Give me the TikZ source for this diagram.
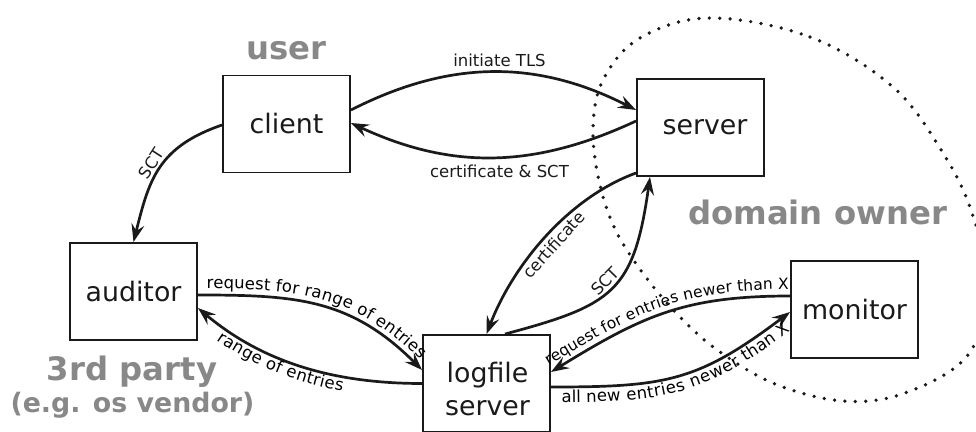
\documentclass[tikz,border=0pt]{standalone}
\usepackage{fontspec}
\setmainfont{DejaVu Sans}
\usetikzlibrary{arrows.meta,decorations.text}
\definecolor{ownergray}{RGB}{136,136,136}
\definecolor{ink}{RGB}{26,26,26}
\newcommand\boxfont{\fontsize{26.8}{33}\selectfont}
\newcommand\edgefont{\fontsize{16.5}{19}\selectfont}
\newcommand\narrowedgefont{\fontsize{15.5}{18}\selectfont}
\newcommand\partyfont{\fontsize{32.3}{36}\selectfont\bfseries}
\newcommand\vendorfont{\fontsize{26.8}{30}\selectfont\bfseries}
\begin{document}
\begin{tikzpicture}[x=1pt,y=1pt,
  entity/.style={draw=ink, line width=1.9pt, minimum width=127pt, minimum height=97pt,
    inner sep=0pt, font=\boxfont, text=ink},
  entitytext/.style={font=\boxfont, text=ink, align=center, inner sep=0pt},
  party/.style={font=\partyfont, text=ownergray, anchor=base, inner sep=0pt},
  flow/.style={draw=ink, line width=2.7pt, -{Stealth[length=18pt,width=13pt,inset=6.5pt]}},
  flowlabel/.style={font=\edgefont, text=ink, inner sep=0pt},
  ownerline/.style={draw=ink, line width=3.7pt, line cap=round, dash pattern=on 0pt off 10.4pt}
]
\useasboundingbox (0,0) rectangle (976,431);

% boundary of the domain owner's realm
\begin{scope}
  \clip (0,0) rectangle (976,431);
  \draw[ownerline] plot[smooth cycle, tension=0.6] coordinates {
    (710,413) (810,394) (893,344) (943,278) (972,218) (987,146) (968,76)
    (905,38) (843,30) (775,47) (720,79) (683,111) (648,151) (617,198)
    (600,246) (593,301) (603,351) (640,393)};
\end{scope}

% parties
\node[party] (userlabel) at (286.5,371.7) {user};
\node[party] (ownerlabel) at (817.5,206) {domain owner};
\node[party] (thirdlabel) at (132,51) {3rd party};
\node[party, font=\vendorfont] (vendorlabel) at (132.5,19) {(e.g. os vendor)};

% actors
\node[entity] (client) at (286.5,307) {client};
\node[entity] (server) at (700.5,303.5) {\hspace*{9pt}server};
\node[entity] (auditor) at (133.5,139.5) {auditor};
\node[entity] (logfile) at (486.5,47.5) {};
\node[entitytext] (logfiletext) at ([xshift=1pt,yshift=-5.5pt]logfile.center) {logfile\\server};
\node[entity] (monitor) at (854.5,121.5) {monitor};

% TLS handshake
\draw[flow] ([yshift=14pt]client.east) to[out=27,in=153]
  node[flowlabel, above=4pt, xshift=6pt] (tlslabel) {initiate TLS} ([yshift=17.5pt]server.west);
\draw[flow] ([yshift=6.5pt]server.west) to[out=205,in=-25]
  node[flowlabel, below=6pt, xshift=6pt] (certsctlabel) {certificate \& SCT} ([yshift=1pt]client.east);

% client hands the SCT to the auditor
\draw[flow] ([yshift=-1pt]client.west) .. controls +(-64.3,-22.1) and +(15.5,62.1) .. (auditor.north)
  node[flowlabel, sloped, above=2pt, pos=0.5] (sctauditlabel) {SCT};

% server submits certificate, log returns SCT
\draw[flow] ([yshift=-45.5pt]server.west) .. controls +(-68.6,-25) and +(26.1,68.2) .. (logfile.north)
  node[flowlabel, sloped, below=3.5pt, pos=0.5] (certlabel) {certificate};
\draw[flow] ([xshift=18.5pt]logfile.north) .. controls +(107.7,28.9) and +(-16.2,-115.2) .. ([xshift=-50.5pt]server.south)
  node[flowlabel, sloped, above=2pt, pos=0.5] (sctlabel) {SCT};

% auditor <-> log
\draw[flow] ([yshift=-3.5pt]auditor.east) .. controls +(98,0) and +(-71.4,71.4) .. ([yshift=13.5pt]logfile.west);
\path[decorate, decoration={text along path, text={|\edgefont|request for range of entries},
    text align=center, raise=6.5pt}]
  ([yshift=-3.5pt]auditor.east) .. controls +(98,0) and +(-71.4,71.4) .. ([yshift=13.5pt]logfile.west);
\draw[flow] (logfile.west) .. controls +(-85,0) and +(66.7,-56) .. ([yshift=-16.5pt]auditor.east);
\path[decorate, decoration={text along path, text={|\edgefont|range of entries},
    text align={left indent=33pt}, raise=-14.5pt}]
  ([yshift=-16.5pt]auditor.east) .. controls +(66.7,-56) and +(-85,0) .. (logfile.west);

% monitor <-> log
\draw[flow] ([yshift=13.5pt]monitor.west) .. controls +(-106,0) and +(91.3,56) .. ([yshift=11.5pt]logfile.east);
\path[decorate, decoration={text along path, text={|\narrowedgefont|request for entries newer than X},
    text align=center, raise=6.5pt}]
  ([yshift=11.5pt]logfile.east) .. controls +(91.3,56) and +(-106,0) .. ([yshift=13.5pt]monitor.west);
\draw[flow] ([yshift=-3.5pt]logfile.east) .. controls +(115,0) and +(-92.4,-69.6) .. ([yshift=-2.5pt]monitor.west);
\path[decorate, decoration={text along path, text={|\edgefont|all new entries newer than X},
    text align=center, raise=-15.5pt}]
  ([yshift=-3.5pt]logfile.east) .. controls +(115,0) and +(-92.4,-69.6) .. ([yshift=-2.5pt]monitor.west);
\end{tikzpicture}
\end{document}
